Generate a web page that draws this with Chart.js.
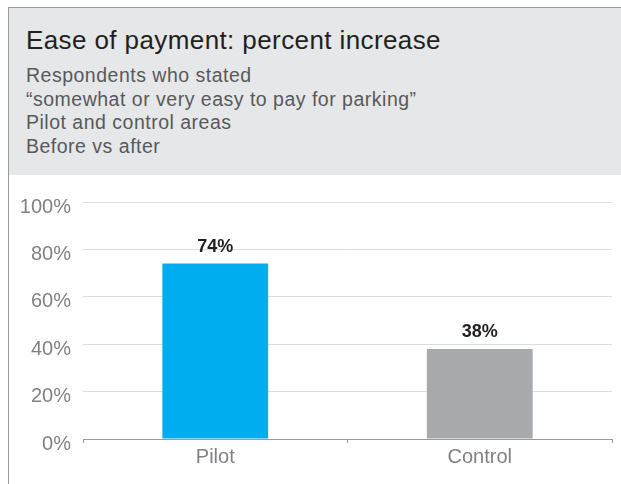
<!DOCTYPE html>
<html>
<head>
<meta charset="utf-8">
<script src="https://cdn.jsdelivr.net/npm/chart.js@4"></script>
<style>
  html, body { margin: 0; padding: 0; background: #fff; width: 621px; height: 484px; overflow: hidden; font-family: "Liberation Sans", Arial, sans-serif; }
  #frame { position: absolute; left: 8px; top: 7px; width: 613px; height: 477px; border-left: 1px solid #9a9a9a; border-top: 1px solid #9a9a9a; }
  #header { position: absolute; left: 9px; top: 8px; width: 612px; height: 167px; background: #e6e7e8; }
  #title { position: absolute; left: 17px; top: 17px; font-size: 26px; letter-spacing: 0.4px; color: #231f20; white-space: nowrap; }
  #sub { position: absolute; left: 17px; top: 56px; font-size: 19.5px; letter-spacing: 0.5px; line-height: 23.7px; color: #58595b; white-space: nowrap; }
  #wrap { position: absolute; left: 0; top: 175px; width: 621px; height: 309px; }
</style>
</head>
<body>
<div id="frame"></div>
<div id="header">
  <div id="title">Ease of payment: percent increase</div>
  <div id="sub">Respondents who stated<br>“somewhat or very easy to pay for parking”<br>Pilot and control areas<br>Before vs after</div>
</div>
<div id="wrap"><canvas id="c"></canvas></div>
<script>
const categories = ["Pilot", "Control"];
const values = [74, 38];
const barColors = ["#00aeef", "#a7a9ac"];
const yTicks = [0, 20, 40, 60, 80, 100];

const labelPlugin = {
  id: "barLabels",
  afterDatasetsDraw(chart) {
    const ctx = chart.ctx;
    const meta = chart.getDatasetMeta(0);
    ctx.save();
    ctx.font = "bold 18px 'Liberation Sans', Arial, sans-serif";
    ctx.fillStyle = "#231f20";
    ctx.textAlign = "center";
    ctx.textBaseline = "middle";
    meta.data.forEach((bar, i) => {
      ctx.fillText(values[i] + "%", bar.x, bar.y - 17);
    });
    ctx.restore();
  }
};

new Chart(document.getElementById("c"), {
  type: "bar",
  data: {
    labels: categories,
    datasets: [{
      data: values,
      backgroundColor: barColors,
      barPercentage: 0.4,
      categoryPercentage: 1.0
    }]
  },
  options: {
    responsive: true,
    maintainAspectRatio: false,
    animation: false,
    layout: { autoPadding: false, padding: { top: 27, right: 9, left: 0, bottom: 0 } },
    plugins: { legend: { display: false }, tooltip: { enabled: false } },
    scales: {
      x: {
        grid: { display: true, drawOnChartArea: false, drawTicks: true, tickLength: 4, color: "#9a9a9a", offset: true },
        border: { display: true, color: "#9a9a9a", width: 1 },
        ticks: { color: "#808285", font: { family: "'Liberation Sans', Arial, sans-serif", size: 20 }, padding: 2 },
        afterFit(scale) { scale.height = 45; }
      },
      y: {
        min: 0, max: 100,
        afterBuildTicks(scale) { scale.ticks = yTicks.map(v => ({ value: v })); },
        grid: { color: (c) => c.tick && c.tick.value === 0 ? "rgba(0,0,0,0)" : "#dcdddf", drawTicks: false, lineWidth: 1 },
        border: { display: false },
        ticks: {
          color: "#808285",
          font: { family: "'Liberation Sans', Arial, sans-serif", size: 20 },
          padding: 12,
          labelOffset: 5,
          callback: (v) => v + "%"
        },
        afterFit(scale) { scale.width = 83; }
      }
    }
  },
  plugins: [labelPlugin]
});
</script>
</body>
</html>
